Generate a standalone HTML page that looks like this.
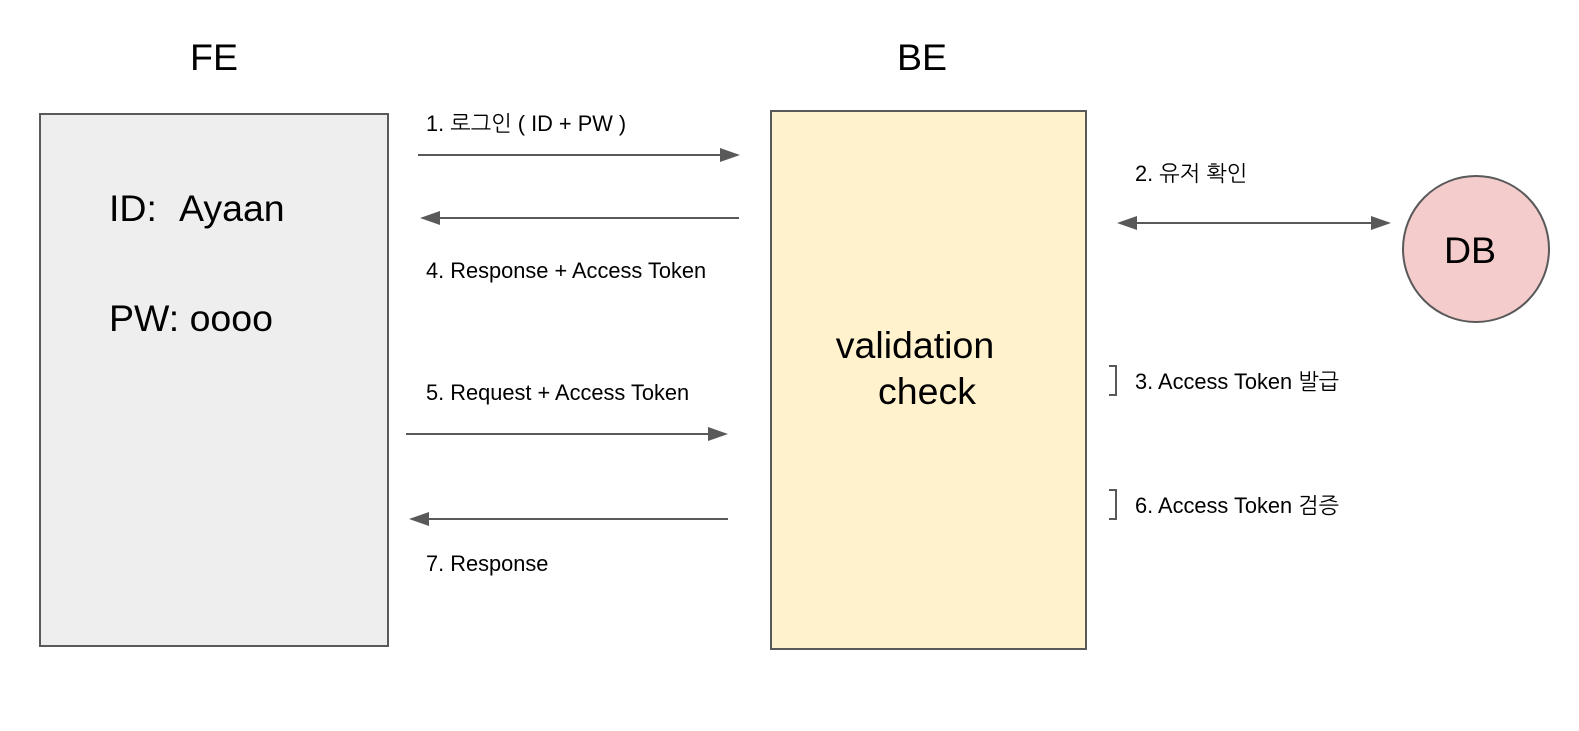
<!DOCTYPE html>
<html><head><meta charset="utf-8"><style>body{margin:0;background:#fff}svg{display:block}</style></head><body>
<svg width="1579" height="731" viewBox="0 0 1579 731" xmlns="http://www.w3.org/2000/svg" font-family="Liberation Sans, NanumGothic, sans-serif">
<rect width="1579" height="731" fill="#fff"/>
<text x="214" y="70" font-size="37.5" text-anchor="middle" fill="#000">FE</text>
<text x="922" y="70" font-size="37.5" text-anchor="middle" fill="#000">BE</text>
<rect x="40" y="114" width="348" height="532" fill="#eeeeee" stroke="#595959" stroke-width="2"/>
<rect x="771" y="111" width="315" height="538" fill="#fff2cc" stroke="#595959" stroke-width="2"/>
<circle cx="1476" cy="249" r="73" fill="#f4cccc" stroke="#595959" stroke-width="2"/>
<text x="1470" y="263" font-size="37.5" text-anchor="middle">DB</text>
<text x="109" y="221" font-size="37.5">ID:</text>
<text x="179" y="221" font-size="37.5">Ayaan</text>
<text x="109" y="331" font-size="37.5">PW: oooo</text>
<text x="915" y="358" font-size="37.5" text-anchor="middle">validation</text>
<text x="927" y="404" font-size="37.5" text-anchor="middle">check</text>
<g stroke="#595959" stroke-width="2" fill="#595959">
<line x1="418" y1="155" x2="722" y2="155"/><polygon points="740,155 720,148 720,162" stroke="none"/>
<line x1="438" y1="218" x2="739" y2="218"/><polygon points="420,218 440,211 440,225" stroke="none"/>
<line x1="406" y1="434" x2="710" y2="434"/><polygon points="728,434 708,427 708,441" stroke="none"/>
<line x1="428" y1="519" x2="728" y2="519"/><polygon points="409,519 429,512 429,526" stroke="none"/>
<line x1="1136" y1="223" x2="1372" y2="223"/>
<polygon points="1117,223 1137,216 1137,230" stroke="none"/>
<polygon points="1391,223 1371,216 1371,230" stroke="none"/>
<polyline points="1109,366 1116,366 1116,395 1109,395" fill="none"/>
<polyline points="1109,490 1116,490 1116,519 1109,519" fill="none"/>
</g>
<g font-size="21.8" fill="#000">
<text x="426" y="131">1. 로그인 ( ID + PW )</text>
<text x="426" y="278">4. Response + Access Token</text>
<text x="426" y="400">5. Request + Access Token</text>
<text x="426" y="571">7. Response</text>
<text x="1135" y="181">2. 유저 확인</text>
<text x="1135" y="389">3. Access Token 발급</text>
<text x="1135" y="513">6. Access Token 검증</text>
</g>
</svg>
</body></html>
